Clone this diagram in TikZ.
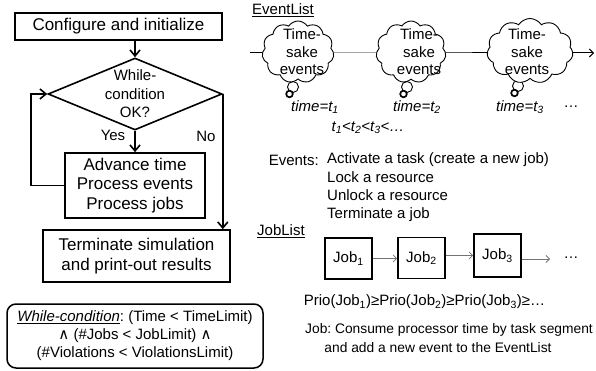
\documentclass[tikz,border=0pt]{standalone}
\usepackage{fontspec}
\setmainfont{Liberation Sans}
\newfontfamily\symfont{DejaVu Sans}
\usetikzlibrary{shapes.geometric,shapes.symbols,arrows.meta,backgrounds}
\frenchspacing

\begin{document}
\begin{tikzpicture}[x=1pt,y=-1pt,
  fbox/.style={draw,line width=1.6pt,inner sep=0pt,align=center,
    font=\fontsize{17}{19.5}\selectfont},
  flow/.style={line width=1.6pt,-{Straight Barb[length=6pt,width=10pt,line width=1.6pt]}},
  lbl/.style={inner sep=0pt,font=\fontsize{15}{18}\selectfont},
  evcloud/.style={cloud,draw,line width=0.9pt,fill=white,cloud puffs=11,
    cloud puff arc=115,inner sep=0pt},
  bubble/.style={draw,line width=0.9pt,fill=white},
  knot/.style={draw,line width=1.7pt,fill=white},
  cloudtxt/.style={inner sep=0pt,align=center,font=\fontsize{15}{17.5}\selectfont},
  jobbox/.style={draw,line width=1.6pt,inner sep=0pt,minimum width=47pt,minimum height=41pt,
    font=\fontsize{15}{18}\selectfont},
  jarr/.style={draw=black!55,line width=0.8pt,-{Straight Barb[length=3.5pt,width=7pt]}},
]
\useasboundingbox (0,0) rectangle (596,371);

% ---------------- flow chart ----------------
\node[fbox,minimum width=207pt,minimum height=27pt] (cfg) at (118.5,26.5) {Configure and initialize};
\node[draw,diamond,line width=1.6pt,inner sep=0pt,minimum width=174pt,minimum height=72pt] (dia) at (135,94) {};
\node[inner sep=0pt,align=center,font=\fontsize{15}{18.5}\selectfont] (diatxt) at (135,94) {While-\\condition\\OK?};
\node[fbox,minimum width=140pt,minimum height=65pt] (adv) at (135,185.5) {Advance time\\Process events\\Process jobs};
\node[fbox,minimum width=187pt,minimum height=52pt] (term) at (136.5,256) {Terminate simulation\\and print-out results};

\draw[flow] (dia.north |- cfg.south) -- (dia.north);
\draw[flow] (dia.south) -- (adv.north);
\draw[flow] (adv.west) -- ++(-33,0) |- (dia.west);
\draw[flow] (dia.east) -- (dia.east |- term.north);
\node[lbl] (yes) at (113,135) {Yes};
\node[lbl] (no) at (206,136) {No};

\node[draw,line width=1.5pt,rounded corners=9pt,minimum width=256pt,minimum height=64pt,
  inner sep=0pt,align=center,font=\fontsize{15}{18}\selectfont] (cond) at (135,336)
  {\underline{\itshape While-condition}: (Time < TimeLimit)\\
   {\symfont ∧} (\#Jobs < JobLimit) {\symfont ∧}\\
   (\#Violations < ViolationsLimit)};

% ---------------- event list ----------------
\node[lbl,anchor=west] (evlist) at (252,10) {\underline{EventList}};

\node[evcloud,minimum width=72pt,minimum height=62pt] (c1) at (298,52) {};
\node[evcloud,minimum width=70pt,minimum height=62pt] (c2) at (411,52) {};
\node[evcloud,minimum width=86pt,minimum height=65pt] (c3) at (530,51) {};
\node[cloudtxt] (c1t) at (302,52) {Time-\\sake\\events};
\node[cloudtxt] (c2t) at (419,52) {Time-\\sake\\events};
\node[cloudtxt] (c3t) at (527,52) {Time-\\sake\\events};

\coordinate (evs) at (250,53);
\coordinate (eve) at (594,53);
\begin{scope}[on background layer]
  % time axis through the event clouds
  \draw[line width=1pt] (evs) -- (evs -| c1.center) -- (evs -| c2.center) -- (evs -| c3.center);
  \draw[line width=1pt,-{Straight Barb[length=4pt,width=8pt]}] (evs -| c3.center) -- (eve);
  % thought bubbles under each cloud
  \foreach \c/\dx in {c1/-5,c2/-4,c3/-12}{
    \draw[bubble] ([shift={(\dx,35)}]\c.center) circle[radius=5.5];
    \draw[knot] ([shift={(\dx-3.5,42)}]\c.center) circle[radius=3.3];
  }
\end{scope}

\node[lbl,font=\fontsize{15}{18}\selectfont\itshape] (tm1) at (315,107) {time=t\textsubscript{1}};
\node[lbl,font=\fontsize{15}{18}\selectfont\itshape] (tm2) at (417,107) {time=t\textsubscript{2}};
\node[lbl,font=\fontsize{15}{18}\selectfont\itshape] (tm3) at (520,107) {time=t\textsubscript{3}};
\node[lbl] (tdots) at (571,107) {…};
\node[lbl,font=\fontsize{15}{18}\selectfont\itshape] (tord) at (368,128)
  {t\textsubscript{1}<t\textsubscript{2}<t\textsubscript{3}<…};

\node[lbl,anchor=east] (evhead) at (319,160) {Events:};
\node[lbl,anchor=west,align=left,font=\fontsize{15}{18.3}\selectfont] (evitems) at (327,187.5)
  {Activate a task (create a new job)\\Lock a resource\\Unlock a resource\\Terminate a job};

% ---------------- job list ----------------
\node[lbl,anchor=west] (joblist) at (257,231) {\underline{JobList}};
\node[jobbox] (j1) at (348.5,258.5) {Job\textsubscript{1}};
\node[jobbox] (j2) at (421.5,258) {Job\textsubscript{2}};
\node[jobbox,minimum height=43pt] (j3) at (497.5,255.5) {Job\textsubscript{3}};
\coordinate (jend) at (550,259);
\draw[jarr] (j1.east) -- (j1.east -| j2.west);
\draw[jarr] (j2.east |- j3.west) -- (j3.west);
\draw[jarr] (j3.east |- jend) -- (jend);
\node[lbl] (jdots) at (571,258) {…};

\node[lbl] (prio) at (424.5,302)
  {Prio(Job\textsubscript{1})≥Prio(Job\textsubscript{2})≥Prio(Job\textsubscript{3})≥…};
\node[lbl,font=\fontsize{13.8}{17}\selectfont] (jobnote1) at (449,330)
  {Job: Consume processor time by task segment};
\node[lbl,font=\fontsize{13.8}{17}\selectfont] (jobnote2) at (438,348)
  {and add a new event to the EventList};
\end{tikzpicture}
\end{document}
